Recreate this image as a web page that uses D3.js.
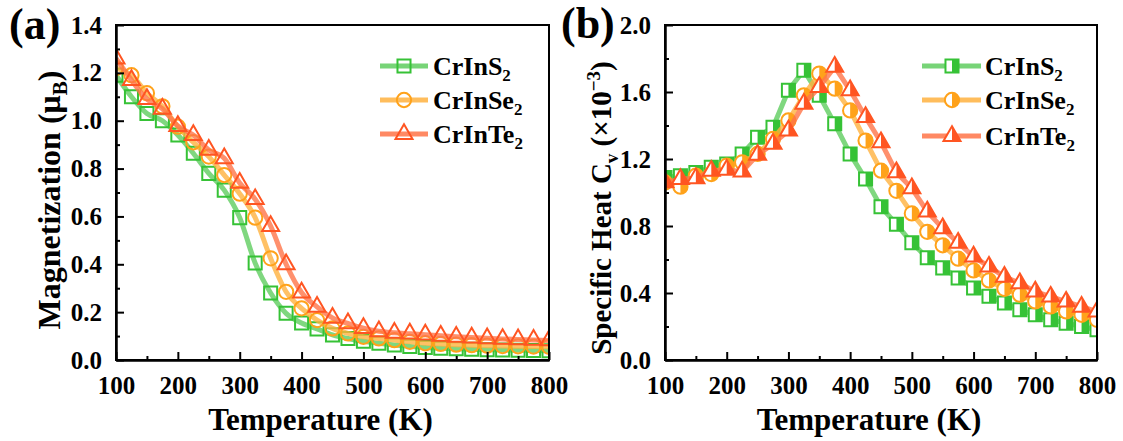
<!DOCTYPE html>
<html><head><meta charset="utf-8">
<script src="https://cdn.jsdelivr.net/npm/d3@7"></script>
<style>
body{margin:0;background:#fff}
svg{display:block}
text{font-family:"Liberation Serif","Times New Roman",serif;font-weight:bold;fill:#000}
</style>
</head><body>
<svg id="chart" width="1123" height="441"></svg>
<script>
// ---------- data ----------
const temperatures = [100,125,150,175,200,225,250,275,300,325,350,375,400,425,450,475,500,525,550,575,600,625,650,675,700,725,750,775,800];
const xTickValues = [100,200,300,400,500,600,700,800];
const xMinorValues = [150,250,350,450,550,650,750];
const magTickValues = [0,0.2,0.4,0.6,0.8,1.0,1.2,1.4];
const magMinorValues = [0.1,0.3,0.5,0.7,0.9,1.1,1.3];
const cvTickValues = [0,0.4,0.8,1.2,1.6,2.0];
const cvMinorValues = [0.2,0.6,1.0,1.4,1.8];
const compoundBase = ["CrInS","CrInSe","CrInTe"];
const compoundSub = ["2","2","2"];

const magCrInS2  = [1.19,1.10,1.03,1.00,0.94,0.864,0.78,0.71,0.595,0.405,0.28,0.195,0.155,0.13,0.105,0.09,0.078,0.07,0.063,0.057,0.052,0.049,0.047,0.045,0.043,0.042,0.041,0.040,0.039];
const magCrInSe2 = [1.22,1.19,1.115,1.06,0.975,0.91,0.85,0.773,0.695,0.595,0.425,0.285,0.216,0.167,0.132,0.111,0.097,0.09,0.083,0.076,0.07,0.067,0.064,0.062,0.06,0.058,0.057,0.056,0.055];
const magCrInTe2 = [1.26,1.17,1.09,1.05,0.978,0.94,0.878,0.843,0.74,0.672,0.56,0.40,0.282,0.222,0.176,0.153,0.133,0.12,0.114,0.11,0.106,0.101,0.097,0.094,0.091,0.088,0.086,0.084,0.082];

const cvCrInS2  = [1.09,1.10,1.12,1.15,1.17,1.23,1.33,1.39,1.61,1.73,1.58,1.41,1.23,1.08,0.915,0.81,0.70,0.61,0.55,0.49,0.43,0.38,0.34,0.30,0.27,0.24,0.22,0.20,0.18];
const cvCrInSe2 = [1.06,1.035,1.10,1.11,1.16,1.18,1.23,1.32,1.43,1.58,1.71,1.62,1.49,1.31,1.13,1.01,0.875,0.765,0.685,0.605,0.535,0.475,0.425,0.39,0.35,0.32,0.29,0.27,0.24];
const cvCrInTe2 = [1.06,1.08,1.085,1.13,1.135,1.125,1.225,1.29,1.37,1.53,1.63,1.75,1.61,1.45,1.30,1.12,1.025,0.886,0.786,0.70,0.617,0.557,0.497,0.458,0.408,0.378,0.348,0.318,0.289];

// ---------- styles ----------
const markerColors = ["#36c236","#ffa21a","#ff5522"];
const lineColors   = ["#5fcd5f","#ffb23f","#ff7448"];
const symbolTypes  = [d3.symbolSquare, d3.symbolCircle, d3.symbolTriangle];
const symbolSizes  = [170, 160, 125];

const svg = d3.select("#chart");
const defs = svg.append("defs");
defs.append("clipPath").attr("id","rightHalf").attr("clipPathUnits","objectBoundingBox")
  .append("rect").attr("x",0.5).attr("y",-0.1).attr("width",0.6).attr("height",1.2);

function drawMarker(g, i, x, y, mode) {
  const d = d3.symbol().type(symbolTypes[i]).size(symbolSizes[i])();
  const m = g.append("g").attr("transform", `translate(${x},${y})`);
  if (mode === "half") {
    m.append("path").attr("d", d).attr("fill", "#fff");
    m.append("path").attr("d", d).attr("fill", markerColors[i]).attr("clip-path","url(#rightHalf)");
  }
  m.append("path").attr("d", d).attr("fill","none").attr("stroke", markerColors[i]).attr("stroke-width", 2);
}

function drawPanel(opt) {
  const {left,right,top,bottom,yDomain,yTicks,yMinor,series,mode,curve,id} = opt;
  const x = d3.scaleLinear().domain([100,800]).range([left,right]);
  const y = d3.scaleLinear().domain(yDomain).range([bottom,top]);
  const g = svg.append("g");

  defs.append("clipPath").attr("id","plot"+id)
    .append("rect").attr("x",left).attr("y",top).attr("width",right-left).attr("height",bottom-top);

  const data = g.append("g").attr("clip-path",`url(#plot${id})`);
  series.forEach((vals, i) => {
    const pts = temperatures.map((t, k) => [t, vals[k]]);
    data.append("path")
      .attr("d", d3.line().x(p => x(p[0])).y(p => y(p[1])).curve(curve)(pts))
      .attr("fill","none").attr("stroke", lineColors[i]).attr("stroke-width",5)
      .attr("stroke-opacity",0.8).attr("stroke-linejoin","round");
    pts.forEach(p => drawMarker(data, i, x(p[0]), y(p[1]), mode));
  });

  // axes
  g.append("g").attr("transform",`translate(0,${bottom})`)
    .call(d3.axisBottom(x).tickValues(xTickValues).tickSizeInner(-8).tickSizeOuter(0).tickPadding(16));
  g.append("g").attr("transform",`translate(0,${bottom})`)
    .call(d3.axisBottom(x).tickValues(xMinorValues).tickSizeInner(-4).tickSizeOuter(0).tickFormat(""));
  g.append("g").attr("transform",`translate(${left},0)`)
    .call(d3.axisLeft(y).tickValues(yTicks).tickSizeInner(-8).tickSizeOuter(0).tickPadding(14).tickFormat(d3.format(".1f")));
  g.append("g").attr("transform",`translate(${left},0)`)
    .call(d3.axisLeft(y).tickValues(yMinor).tickSizeInner(-4).tickSizeOuter(0).tickFormat(""));
  g.selectAll(".tick line").attr("stroke","#000").attr("stroke-width",2);
  g.selectAll(".domain").attr("stroke","#000").attr("stroke-width",2);
  g.selectAll(".tick text").style("font-size","25px").style("font-family",'"Liberation Serif","Times New Roman",serif').style("font-weight","bold");
  g.append("rect").attr("x",left).attr("y",top).attr("width",right-left).attr("height",bottom-top)
    .attr("fill","none").attr("stroke","#000").attr("stroke-width",2);

  // x title
  g.append("text").attr("x",(left+right)/2 - 12).attr("y",430).attr("text-anchor","middle")
    .style("font-size","31px").text("Temperature (K)");
  return {x,y,g};
}

function legend(x0, x1, xm, xt, rows, mode) {
  const g = svg.append("g");
  rows.forEach((ry, i) => {
    g.append("line").attr("x1",x0).attr("x2",x1).attr("y1",ry).attr("y2",ry)
      .attr("stroke",lineColors[i]).attr("stroke-width",5).attr("stroke-opacity",0.85);
    drawMarker(g, i, xm, ry, mode);
    const t = g.append("text").attr("x",xt).attr("y",ry+9).style("font-size","26px");
    t.append("tspan").text(compoundBase[i]);
    t.append("tspan").attr("dy",6).style("font-size","17px").text(compoundSub[i]);
  });
}

// panel (a)
drawPanel({id:"a",left:116,right:549,top:25,bottom:360,yDomain:[0,1.4],yTicks:magTickValues,yMinor:magMinorValues,
  series:[magCrInS2,magCrInSe2,magCrInTe2],mode:"open",curve:d3.curveMonotoneX});
// panel (b)
drawPanel({id:"b",left:665,right:1097,top:25,bottom:360,yDomain:[0,2.0],yTicks:cvTickValues,yMinor:cvMinorValues,
  series:[cvCrInS2,cvCrInSe2,cvCrInTe2],mode:"half",curve:d3.curveLinear});

legend(380,428,404,433,[66,100,134],"open");
legend(922,981,952,985,[66,100,136],"half");

// y titles
const ya = svg.append("text").attr("transform","translate(60,200) rotate(-90)").attr("text-anchor","middle").style("font-size","32px");
ya.append("tspan").text("Magnetization (\u03BC");
ya.append("tspan").attr("dy",7).style("font-size","21px").text("B");
ya.append("tspan").attr("dy",-7).text(")");

const yb = svg.append("text").attr("transform","translate(611,208) rotate(-90)").attr("text-anchor","middle").style("font-size","29px");
yb.append("tspan").text("Specific Heat C");
yb.append("tspan").attr("dy",7).style("font-size","19px").text("v");
yb.append("tspan").attr("dy",-7).text(" (\u00D710");
yb.append("tspan").attr("dy",-11).style("font-size","19px").text("\u22123");
yb.append("tspan").attr("dy",11).text(")");

// panel labels
svg.append("text").attr("x",9).attr("y",39).style("font-size","44px").text("(a)");
svg.append("text").attr("x",561).attr("y",38).style("font-size","44px").text("(b)");
</script>
</body></html>
